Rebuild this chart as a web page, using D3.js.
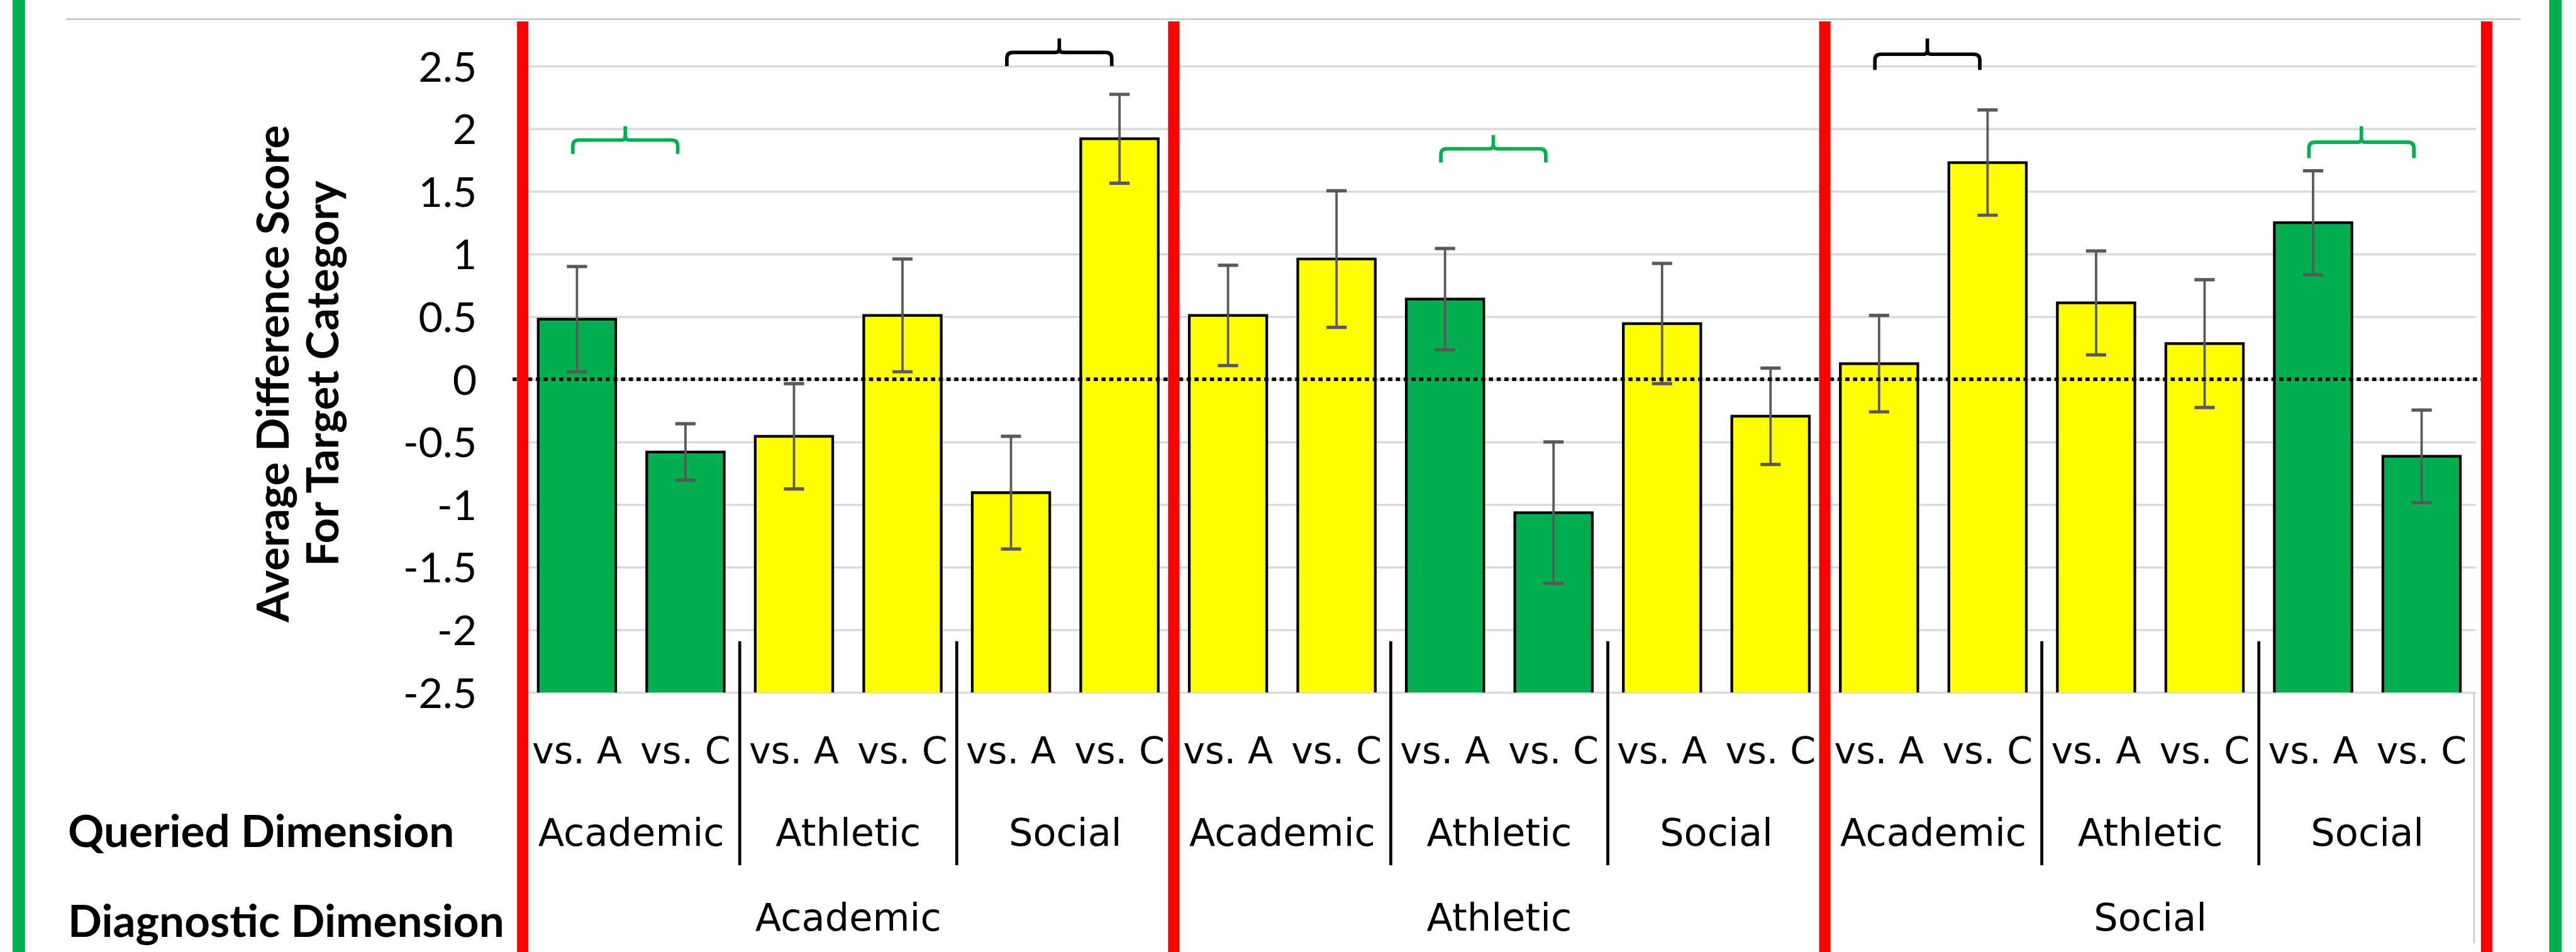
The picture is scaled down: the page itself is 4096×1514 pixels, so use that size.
<!DOCTYPE html>
<html><head><meta charset="utf-8">
<script src="https://cdn.jsdelivr.net/npm/d3@7"></script>
<style>html,body{margin:0;padding:0;background:#fff;overflow:hidden}</style>
</head><body>
<svg id="c" width="4096" height="1514"></svg>
<script>
// ---------- data ----------
const diagnosticDims = ["Academic", "Athletic", "Social"];
const queriedDims = ["Academic", "Athletic", "Social"];
const comparisons = ["vs. A", "vs. C"];
// order: diagnostic -> queried -> comparison
const means = [0.48, -0.58, -0.455, 0.51, -0.905, 1.92,
               0.51, 0.96, 0.64, -1.065, 0.445, -0.295,
               0.125, 1.73, 0.61, 0.285, 1.25, -0.615];
const errs  = [0.42, 0.225, 0.42, 0.45, 0.45, 0.355,
               0.40, 0.545, 0.405, 0.565, 0.48, 0.385,
               0.385, 0.42, 0.415, 0.51, 0.415, 0.37];
const yTickValues = [2.5, 2, 1.5, 1, 0.5, 0, -0.5, -1, -1.5, -2, -2.5];
const yTickLabels = ["2.5", "2", "1.5", "1", "0.5", "0", "-0.5", "-1", "-1.5", "-2", "-2.5"];
const axisTitleLines = ["Average Difference Score", "For Target Category"];
const rowLabels = ["Queried Dimension", "Diagnostic Dimension"];
const braceStartBar = [0, 4, 8, 12, 16];
const braceColors = ["#00B050", "#000000", "#00B050", "#000000", "#00B050"];
const braceTop = [2.02, 2.72, 1.95, 2.72, 2.02];
const braceEnd = [1.80, 2.50, 1.73, 2.47, 1.765];

// ---------- rows ----------
const rows = [];
diagnosticDims.forEach((dg, gi) => queriedDims.forEach((q, qi) => comparisons.forEach((c, ci) => {
  const i = rows.length;
  rows.push({i, diag: dg, queried: q, comp: c, v: means[i], e: errs[i]});
})));

// ---------- layout (reference pixels, scaled at the end) ----------
const k = 4096 / 4322;
const L = 877, R = 4154, yTop = 111, yBot = 1162;
const GREEN = "#00B050", YELLOW = "#FFFF00", RED = "#FF0000";

const svg = d3.select("#c");
const root = svg.append("g").attr("transform", `scale(${k})`);

const x = d3.scaleBand().domain(rows.map(d => d.i)).range([L, R])
  .paddingInner(0.286).paddingOuter(0.143);
const step = x.step();
const y = d3.scaleLinear().domain([-2.5, 2.5]).range([yBot, yTop]);
const bx = i => L + i * step; // slot boundary

// frame lines
root.append("line").attr("x1", 111).attr("x2", 4229).attr("y1", 32).attr("y2", 32)
  .attr("stroke", "#C8C8C8").attr("stroke-width", 3);
root.append("rect").attr("x", 21).attr("y", 0).attr("width", 21).attr("height", 1598).attr("fill", GREEN);
root.append("rect").attr("x", 4277).attr("y", 0).attr("width", 21).attr("height", 1598).attr("fill", GREEN);

// gridlines
const grid = root.append("g").attr("transform", `translate(${L},0)`)
  .call(d3.axisLeft(y).tickValues(yTickValues).tickSize(-(R - L)).tickFormat(""));
grid.select(".domain").remove();
grid.selectAll("line").attr("stroke", "#D9D9D9").attr("stroke-width", 3.5);

// category axis right border
root.append("line").attr("x1", R - 3).attr("x2", R - 3).attr("y1", yBot).attr("y2", 1583)
  .attr("stroke", "#D0D0D0").attr("stroke-width", 3);

// y tick labels
const yAxis = root.append("g").attr("transform", `translate(800,0)`)
  .call(d3.axisLeft(y).tickValues(yTickValues).tickSize(0).tickPadding(0)
    .tickFormat((d, i) => yTickLabels[i]));
yAxis.select(".domain").remove();
yAxis.selectAll("text").attr("font-family", "Lato, sans-serif").attr("font-size", 70)
  .attr("fill", "#000").attr("dy", "0.36em");

// axis title
const title = root.append("text").attr("transform", `translate(0,627) rotate(-90)`)
  .attr("text-anchor", "middle").attr("font-family", "Lato, sans-serif")
  .attr("font-weight", 700).attr("font-size", 74).attr("fill", "#000");
title.append("tspan").attr("x", 0).attr("y", 484).text(axisTitleLines[0]);
title.append("tspan").attr("x", 0).attr("y", 568).text(axisTitleLines[1]);

// bars
root.append("g").selectAll("path").data(rows).join("path")
  .attr("d", d => {
    const x0 = x(d.i), x1 = x0 + x.bandwidth(), yt = y(d.v);
    return `M${x0},${yBot}V${yt}H${x1}V${yBot}Z`;
  })
  .attr("fill", d => d.queried === d.diag ? GREEN : YELLOW)
  .attr("stroke", "none");
root.append("g").selectAll("path").data(rows).join("path")
  .attr("d", d => {
    const x0 = x(d.i), x1 = x0 + x.bandwidth(), yt = y(d.v);
    return `M${x0},${yBot}V${yt}H${x1}V${yBot}`;
  })
  .attr("fill", "none").attr("stroke", "#000").attr("stroke-width", 4.5);

// error bars
const eb = root.append("g").attr("stroke", "#595959");
rows.forEach(d => {
  const cx = x(d.i) + x.bandwidth() / 2;
  eb.append("line").attr("x1", cx).attr("x2", cx).attr("y1", y(d.v + d.e)).attr("y2", y(d.v - d.e))
    .attr("stroke-width", 4);
  [d.v + d.e, d.v - d.e].forEach(v => eb.append("line")
    .attr("x1", cx - 17).attr("x2", cx + 17).attr("y1", y(v)).attr("y2", y(v)).attr("stroke-width", 5.5));
});

// zero dotted line
root.append("line").attr("x1", L - 17).attr("x2", R + 18).attr("y1", y(0)).attr("y2", y(0))
  .attr("stroke", "#000").attr("stroke-width", 6).attr("stroke-dasharray", "7,6");

// black dividers between queried groups
const dividerIdx = [2, 4, 8, 10, 14, 16];
root.append("g").selectAll("line").data(dividerIdx).join("line")
  .attr("x1", i => bx(i)).attr("x2", i => bx(i))
  .attr("y1", y(-2.5) - 86).attr("y2", 1452)
  .attr("stroke", "#000").attr("stroke-width", 5);

// red separators between diagnostic groups
const redIdx = [0, 6, 12, 18];
root.append("g").selectAll("line").data(redIdx).join("line")
  .attr("x1", i => bx(i) + (i === 18 ? 18 : 0)).attr("x2", i => bx(i) + (i === 18 ? 18 : 0))
  .attr("y1", 36).attr("y2", 1598)
  .attr("stroke", RED).attr("stroke-width", 19);

// braces
function bracePath(cx, hw, yt, yb) {
  const yh = (yt + yb) / 2, r = 10;
  return `M${cx - hw},${yb}V${yh + r}Q${cx - hw},${yh} ${cx - hw + r},${yh}` +
    `H${cx - 6}Q${cx},${yh} ${cx},${yh - 8}V${yt}` +
    `M${cx},${yh - 8}Q${cx},${yh} ${cx + 6},${yh}` +
    `H${cx + hw - r}Q${cx + hw},${yh} ${cx + hw},${yh + r}V${yb}`;
}
root.append("g").selectAll("path").data(braceStartBar).join("path")
  .attr("d", (b, j) => {
    const cx = (x(b) + x(b + 1) + x.bandwidth()) / 2 - 10;
    return bracePath(cx, 88, y(braceTop[j]), y(braceEnd[j]));
  })
  .attr("fill", "none").attr("stroke", (b, j) => braceColors[j]).attr("stroke-width", 6);

// category labels
const catFont = "'DejaVu Sans', sans-serif";
root.append("g").selectAll("text").data(rows).join("text")
  .attr("x", d => x(d.i) + x.bandwidth() / 2).attr("y", 1281)
  .attr("text-anchor", "middle").attr("font-family", catFont).attr("font-size", 62)
  .attr("fill", "#000").text(d => d.comp);

const qGroups = d3.range(9).map(j => ({j, label: queriedDims[j % 3]}));
root.append("g").selectAll("text").data(qGroups).join("text")
  .attr("x", g => bx(g.j * 2 + 1)).attr("y", 1419)
  .attr("text-anchor", "middle").attr("font-family", catFont).attr("font-size", 64)
  .attr("fill", "#000").text(g => g.label);

root.append("g").selectAll("text").data(diagnosticDims).join("text")
  .attr("x", (d, j) => bx(j * 6 + 3)).attr("y", 1562)
  .attr("text-anchor", "middle").attr("font-family", catFont).attr("font-size", 64)
  .attr("fill", "#000").text(d => d);

// row labels
root.append("g").selectAll("text").data(rowLabels).join("text")
  .attr("x", 114).attr("y", (d, i) => i === 0 ? 1421 : 1572)
  .attr("font-family", "Lato, sans-serif").attr("font-weight", 700).attr("font-size", 75)
  .attr("fill", "#000").text(d => d);
</script>
</body></html>
